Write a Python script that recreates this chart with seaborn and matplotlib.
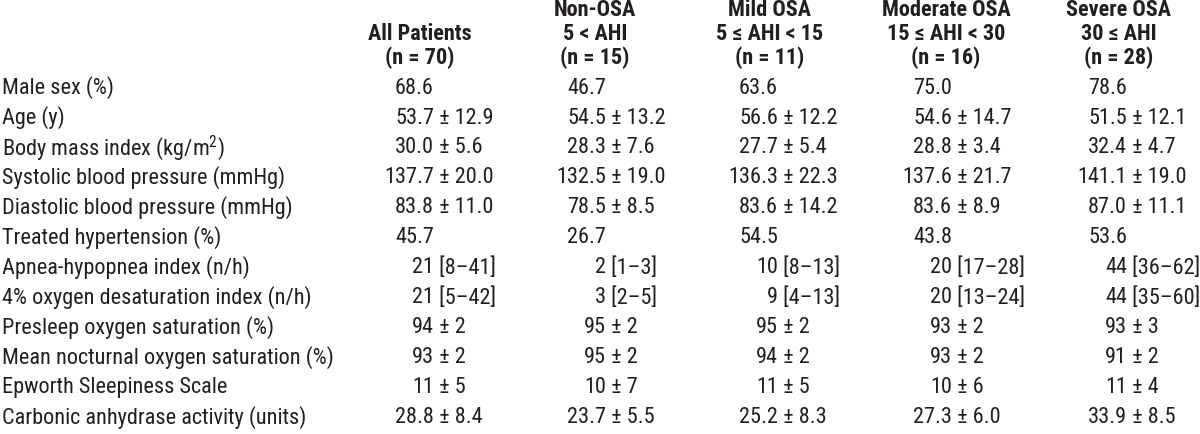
import matplotlib
matplotlib.use("Agg")
import matplotlib.pyplot as plt
from matplotlib import font_manager
import seaborn as sns

# Tablo verileri
row_labels = [
    "Male sex (%)",
    "Age (y)",
    "Body mass index (kg/m$^{2}$)",
    "Systolic blood pressure (mmHg)",
    "Diastolic blood pressure (mmHg)",
    "Treated hypertension (%)",
    "Apnea-hypopnea index (n/h)",
    "4% oxygen desaturation index (n/h)",
    "Presleep oxygen saturation (%)",
    "Mean nocturnal oxygen saturation (%)",
    "Epworth Sleepiness Scale",
    "Carbonic anhydrase activity (units)",
]

group_titles = [
    ["All Patients"],
    ["Non-OSA", "5 < AHI"],
    ["Mild OSA", "5 ≤ AHI < 15"],
    ["Moderate OSA", "15 ≤ AHI < 30"],
    ["Severe OSA", "30 ≤ AHI"],
]
group_n = [70, 15, 11, 16, 28]

all_patients = ["68.6", "53.7 ± 12.9", "30.0 ± 5.6", "137.7 ± 20.0", "83.8 ± 11.0", "45.7",
                "21 [8–41]", "21 [5–42]", "94 ± 2", "93 ± 2", "11 ± 5", "28.8 ± 8.4"]
non_osa = ["46.7", "54.5 ± 13.2", "28.3 ± 7.6", "132.5 ± 19.0", "78.5 ± 8.5", "26.7",
           "2 [1–3]", "3 [2–5]", "95 ± 2", "95 ± 2", "10 ± 7", "23.7 ± 5.5"]
mild_osa = ["63.6", "56.6 ± 12.2", "27.7 ± 5.4", "136.3 ± 22.3", "83.6 ± 14.2", "54.5",
            "10 [8–13]", "9 [4–13]", "95 ± 2", "94 ± 2", "11 ± 5", "25.2 ± 8.3"]
moderate_osa = ["75.0", "54.6 ± 14.7", "28.8 ± 3.4", "137.6 ± 21.7", "83.6 ± 8.9", "43.8",
                "20 [17–28]", "20 [13–24]", "93 ± 2", "93 ± 2", "10 ± 6", "27.3 ± 6.0"]
severe_osa = ["78.6", "51.5 ± 12.1", "32.4 ± 4.7", "141.1 ± 19.0", "87.0 ± 11.1", "53.6",
              "44 [36–62]", "44 [35–60]", "93 ± 3", "91 ± 2", "11 ± 4", "33.9 ± 8.5"]
columns = [all_patients, non_osa, mild_osa, moderate_osa, severe_osa]

# Yerleşim (piksel)
header_x = [420, 595, 770, 946, 1119]
value_anchor = [434, 606, 778, 952, 1127]
row_y0, row_step = 88, 30
head_y0, head_step = 58, 24

sns.set_theme(style="white")

# Dar (condensed) bir yazı tipi varsa onu kullan
installed = {f.name for f in font_manager.fontManager.ttflist}
narrow = next((n for n in ["Liberation Sans Narrow", "Roboto Condensed",
                           "Open Sans Condensed", "Noto Sans Condensed"] if n in installed), None)
if narrow:
    family, fs = narrow, 16
else:
    family, fs = "Liberation Sans", 14
plt.rcParams["font.family"] = [family, "DejaVu Sans"]
plt.rcParams["mathtext.fontset"] = "custom"
plt.rcParams["mathtext.rm"] = family

ink = "#231f20"

fig = plt.figure(figsize=(12, 4.35), dpi=100)
ax = fig.add_axes([0, 0, 1, 1])
ax.set_xlim(0, 1200)
ax.set_ylim(435, 0)
ax.axis("off")

# Başlıklar
for x, lines, n in zip(header_x, group_titles, group_n):
    all_lines = lines + [f"(n = {n})"]
    for k, line in enumerate(reversed(all_lines)):
        ax.text(x, head_y0 - k * head_step, line, ha="center", va="center",
                fontsize=fs, fontweight="bold", color=ink)

# Satır etiketleri ve değerler
for i, label in enumerate(row_labels):
    y = row_y0 + i * row_step
    ax.text(2, y, label, ha="left", va="center", fontsize=fs, color=ink)
    for anchor, col in zip(value_anchor, columns):
        head, _, tail = col[i].partition(" ")
        ax.text(anchor, y, head, ha="right", va="center", fontsize=fs, color=ink)
        if tail:
            ax.text(anchor, y, " " + tail, ha="left", va="center", fontsize=fs, color=ink)

fig.savefig("out.png", dpi=100, facecolor="white")
